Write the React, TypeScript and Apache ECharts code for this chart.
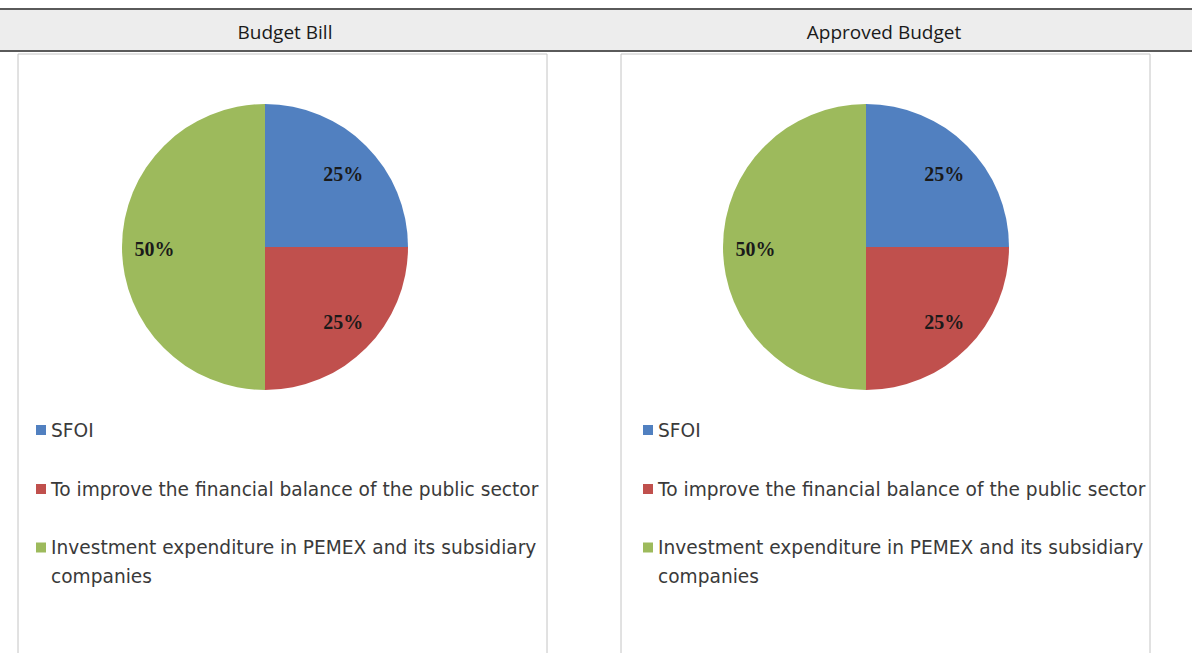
import React, { useEffect, useRef } from "react";
import * as echarts from "echarts";

const panelTitles = ["Budget Bill", "Approved Budget"];
const categories = [
  "SFOI",
  "To improve the financial balance of the public sector",
  "Investment expenditure in PEMEX and its subsidiary companies",
];
const budgetBillValues = [25, 25, 50];
const approvedBudgetValues = [25, 25, 50];
const sliceColors = ["#5180C0", "#C0504D", "#9DBA5C"];

const W = 1192;
const H = 653;

export default function App() {
  const ref = useRef<HTMLDivElement>(null);
  useEffect(() => {
    document.body.style.margin = "0";
    if (!ref.current) return;
    const chart = echarts.init(ref.current, undefined, { renderer: "svg" });

    const panels = [
      { cx: 265, title: panelTitles[0], values: budgetBillValues, boxL: 18, boxR: 547, legL: 36, titleX: 285 },
      { cx: 866, title: panelTitles[1], values: approvedBudgetValues, boxL: 621, boxR: 1150, legL: 643, titleX: 884 },
    ];
    const cy = 247;
    const R = 143;
    const labelOffsets = [[0, 5], [0, -3], [0, 2]];

    const series: any[] = [];
    const legends: any[] = [];
    const graphics: any[] = [
      { type: "rect", shape: { x: 0, y: 9, width: W, height: 42 }, style: { fill: "#ededed" }, z: 0 },
      { type: "line", shape: { x1: 0, y1: 9, x2: W, y2: 9 }, style: { stroke: "#5a5a5a", lineWidth: 2 }, z: 1 },
      { type: "line", shape: { x1: 0, y1: 51, x2: W, y2: 51 }, style: { stroke: "#5a5a5a", lineWidth: 2 }, z: 1 },
    ];

    panels.forEach((p) => {
      const data = categories.map((c, k) => ({ name: c, value: p.values[k], itemStyle: { color: sliceColors[k] } }));
      graphics.push({
        type: "rect",
        shape: { x: p.boxL, y: 54, width: p.boxR - p.boxL, height: 620 },
        style: { fill: "#ffffff", stroke: "#c4c4c4", lineWidth: 1 },
        z: 0,
      });
      graphics.push({
        type: "text",
        x: p.titleX,
        y: 32,
        style: {
          text: p.title,
          font: "19px 'Open Sans'",
          fill: "#1a1a1a",
          align: "center",
          verticalAlign: "middle",
        },
        z: 2,
      });
      series.push({
        type: "pie",
        center: [p.cx, cy],
        radius: R,
        startAngle: 90,
        clockwise: true,
        silent: true,
        label: { show: false },
        labelLine: { show: false },
        itemStyle: { borderWidth: 0 },
        data,
      });
      series.push({
        type: "pie",
        center: [p.cx, cy],
        radius: [Math.round(R * 0.5), R],
        startAngle: 90,
        clockwise: true,
        silent: true,
        z: 3,
        itemStyle: { color: "rgba(0,0,0,0)", borderWidth: 0 },
        label: {
          show: true,
          position: "inside",
          formatter: "{d}%",
          fontFamily: "'Liberation Serif', serif",
          fontWeight: "bold",
          fontSize: 20,
          color: "#1a1a1a",
        },
        labelLine: { show: false },
        data: categories.map((c, k) => ({ name: c, value: p.values[k], label: { offset: labelOffsets[k] } })),
      });
      const legendText = {
        fontFamily: "'DejaVu Sans'",
        fontSize: 18.6,
        color: "#3a3a3a",
      };
      legends.push({
        orient: "vertical",
        left: p.legL,
        top: 420,
        padding: 0,
        itemWidth: 10,
        itemHeight: 10,
        itemGap: 39,
        icon: "rect",
        selectedMode: false,
        data: categories.slice(0, 2).map((c, k) => ({ name: c, itemStyle: { color: sliceColors[k] } })),
        textStyle: { ...legendText, lineHeight: 20 },
      });
      legends.push({
        orient: "vertical",
        left: p.legL,
        top: 504,
        padding: 0,
        itemWidth: 10,
        itemHeight: 10,
        icon: "rect",
        selectedMode: false,
        data: [{ name: categories[2], itemStyle: { color: sliceColors[2] } }],
        formatter: () => " \nInvestment expenditure in PEMEX and its subsidiary\ncompanies",
        textStyle: { ...legendText, lineHeight: 29 },
      });
    });

    chart.setOption({
      animation: false,
      backgroundColor: "#ffffff",
      graphic: { elements: graphics },
      legend: legends,
      series,
    });
    return () => chart.dispose();
  }, []);
  return <div ref={ref} style={{ width: W, height: H }} />;
}
